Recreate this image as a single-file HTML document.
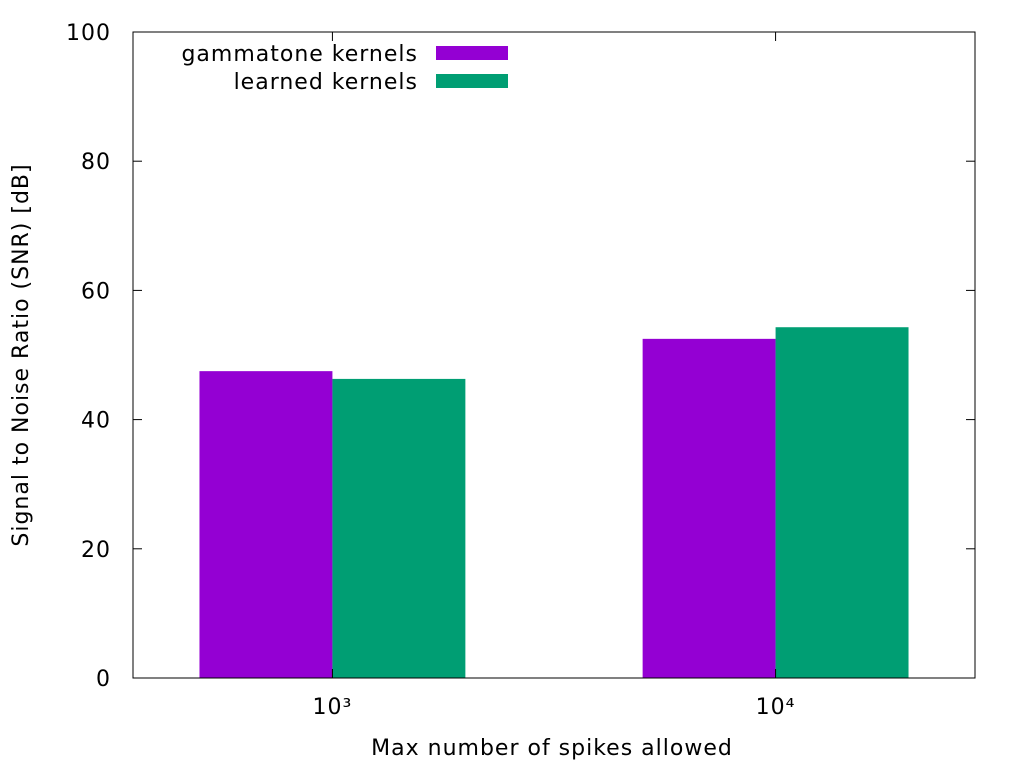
<!DOCTYPE html>
<html><head><meta charset="utf-8"><style>
html,body{margin:0;padding:0;background:#fff;}
svg{display:block;font-family:"DejaVu Sans","Liberation Sans",sans-serif;}
svg text{letter-spacing:1px;}
</style></head><body>
<svg id="chart" width="1024" height="768">
<rect x="0" y="0" width="1024" height="768" fill="#fff"/>
<g id="bars"></g>
<g id="axes"></g>
</svg>
<script>
const categories = ["10³", "10⁴"];
const gammatoneValues = [47.5, 52.5];
const learnedValues = [46.3, 54.3];
const yTicks = [0, 20, 40, 60, 80, 100];
const seriesNames = ["gammatone kernels", "learned kernels"];

const NS = "http://www.w3.org/2000/svg";
const L = 133, R = 975, T = 32, B = 678;
const xMin = -0.45, xMax = 1.45, yMin = 0, yMax = 100;
function xs(v){ return L + (v - xMin) / (xMax - xMin) * (R - L); }
function ys(v){ return B - (v - yMin) / (yMax - yMin) * (B - T); }
function mk(tag, attrs, parent){ const e = document.createElementNS(NS, tag); for (const k in attrs) e.setAttribute(k, attrs[k]); parent.appendChild(e); return e; }
const bars = document.getElementById('bars');
const axes = document.getElementById('axes');
const colors = ["#9400d3", "#009e73"];
const series = [gammatoneValues, learnedValues];
const bw = 0.3;
const FS = 22;
series.forEach((vals, s) => {
  vals.forEach((v, i) => {
    const x0 = xs(i + (s === 0 ? -bw : 0)), x1 = xs(i + (s === 0 ? 0 : bw));
    const r = mk('rect', {x: x0, y: ys(v), width: x1 - x0, height: ys(0) - ys(v), fill: colors[s]}, bars);
    
    
  });
});
const frame = mk('rect', {x: L, y: T, width: R - L, height: B - T, fill: 'none', stroke: '#000', 'stroke-width': 1}, axes);


yTicks.forEach(t => {
  const y = ys(t);
  mk('line', {x1: L, x2: L + 9, y1: y, y2: y, stroke: '#000'}, axes);
  mk('line', {x1: R, x2: R - 9, y1: y, y2: y, stroke: '#000'}, axes);
  const tx = mk('text', {x: L - 22, y: y + 8, 'text-anchor': 'end', 'font-size': FS}, axes);
  tx.textContent = t;
  
  
});
categories.forEach((c, i) => {
  const x = xs(i);
  mk('line', {x1: x, x2: x, y1: B, y2: B - 9, stroke: '#000'}, axes);
  mk('line', {x1: x, x2: x, y1: T, y2: T + 9, stroke: '#000'}, axes);
  const tx = mk('text', {x: x, y: 714, 'text-anchor': 'middle', 'font-size': FS}, axes);
  tx.textContent = c;
  
  
});
const xt = mk('text', {x: 552, y: 755, 'text-anchor': 'middle', 'font-size': FS}, axes);
xt.textContent = "Max number of spikes allowed";


const yt = mk('text', {x: 0, y: 0, 'text-anchor': 'middle', 'font-size': FS, transform: 'translate(28,355) rotate(-90)'}, axes);
yt.textContent = "Signal to Noise Ratio (SNR) [dB]";


seriesNames.forEach((n, s) => {
  const y = 53 + s * 28;
  const lt = mk('text', {x: 418, y: y + 8, 'text-anchor': 'end', 'font-size': FS}, axes);
  lt.textContent = n;
  
  
  const sw = mk('rect', {x: 436, y: y - 7, width: 72, height: 14, fill: colors[s]}, axes);
  
  
});
</script>
</body></html>
